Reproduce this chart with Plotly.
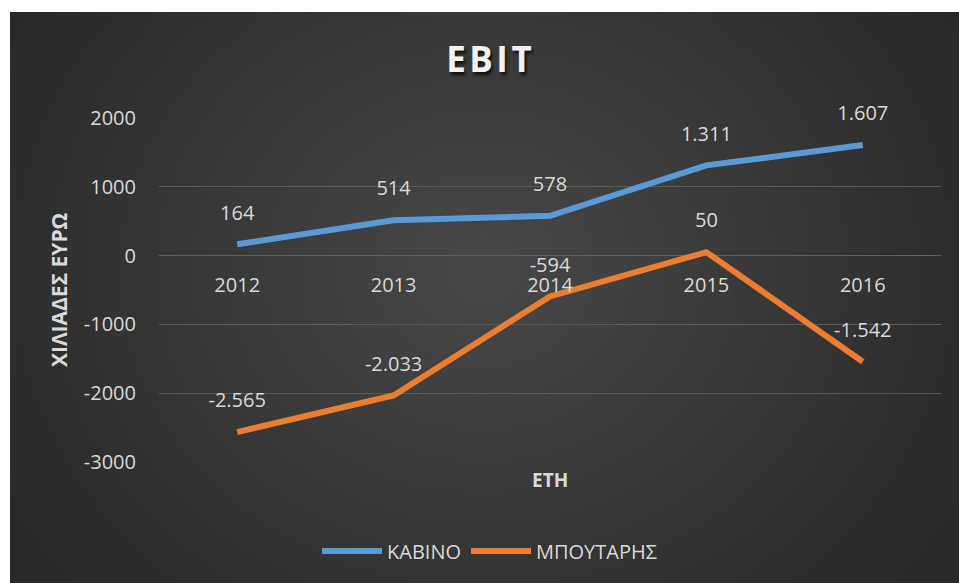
import plotly.graph_objects as go

years = ["2012", "2013", "2014", "2015", "2016"]
kavino = [164, 514, 578, 1311, 1607]
boutaris = [-2565, -2033, -594, 50, -1542]
y_tickvals = [-3000, -2000, -1000, 0, 1000, 2000]
y_ticktext = ["-3000", "-2000", "-1000", "0", "1000", "2000"]
series_names = ["ΚΑΒΙΝΟ", "ΜΠΟΥΤΑΡΗΣ"]
series_colors = ["#5B9BD5", "#ED7D31"]

FONT = "Open Sans"
TXT = "#d9d9d9"
BG = "#292929"

def fmt(v):
    return f"{v:,}".replace(",", ".")

W, H = 959, 583
ML, MR, MT, MB = 159, 18, 118, 121
PW, PH = W - ML - MR, H - MT - MB

def px(x):  # page pixel x -> paper fraction
    return (x - ML) / PW

def py(y):  # page pixel y -> paper fraction
    return (H - MB - y) / PH

fig = go.Figure()
for name, vals, col in zip(series_names, [kavino, boutaris], series_colors):
    fig.add_trace(go.Scatter(
        x=years, y=vals, name=name,
        mode="lines+markers+text",
        line=dict(color=col, width=6),
        marker=dict(size=30, color="rgba(0,0,0,0)"),
        text=[fmt(v) for v in vals],
        textposition="top center",
        textfont=dict(family=FONT, size=20, color=TXT),
        cliponaxis=False,
    ))

shapes = [
    dict(type="rect", xref="paper", yref="paper", layer="below",
         x0=px(-20), x1=px(980), y0=py(-20), y1=py(12),
         fillcolor="white", line=dict(width=0)),
    dict(type="rect", xref="paper", yref="paper", layer="below",
         x0=px(-20), x1=px(10), y0=py(-20), y1=py(600),
         fillcolor="white", line=dict(width=0)),
]
cx, cy = 484, 270
N = 30
for i in range(N):
    f = 1 - i / N
    rx, ry = 540 * f, 470 * f
    shapes.append(dict(type="circle", xref="paper", yref="paper", layer="below",
                       x0=px(cx - rx), x1=px(cx + rx), y0=py(cy + ry), y1=py(cy - ry),
                       fillcolor="rgba(255,255,255,0.0065)", line=dict(width=0)))

fig.update_layout(
    width=W, height=H,
    margin=dict(l=ML, r=MR, t=MT, b=MB, autoexpand=False),
    paper_bgcolor=BG,
    plot_bgcolor="rgba(0,0,0,0)",
    hovermode=False,
    shapes=shapes,
    title=dict(text="<b>E\u200aB\u200aI\u200aT</b>", x=489 / W, xanchor="center",
               y=1 - 60 / H, yanchor="middle",
               font=dict(family=FONT, size=35, color="#f2f2f2",
                         shadow="2px 3px 3px rgba(0,0,0,0.7)")),
    xaxis=dict(type="category", range=[-0.5, 4.5], anchor="free", position=0.6,
               showgrid=False, showline=False, zeroline=False, ticks="",
               ticklabelstandoff=15,
               tickfont=dict(family=FONT, size=20, color=TXT)),
    yaxis=dict(range=[-3000, 2000], tickvals=y_tickvals, ticktext=y_ticktext,
               showgrid=True, gridcolor="#5a5a5a", gridwidth=1,
               zeroline=True, zerolinecolor="#606060", zerolinewidth=1,
               showline=False, ticks="", ticklabelstandoff=22,
               tickfont=dict(family=FONT, size=20, color=TXT)),
    legend=dict(orientation="h", x=px(490), xanchor="center", y=py(551), yanchor="middle",
                font=dict(family=FONT, size=20, color=TXT), bgcolor="rgba(0,0,0,0)",
                itemwidth=60),
    annotations=[
        dict(text="<b>ΧΙΛΙΑΔΕΣ ΕΥΡΩ</b>", textangle=-90, xref="paper", yref="paper",
             x=px(59), y=py(290), xanchor="center", yanchor="middle", showarrow=False,
             font=dict(family=FONT, size=21, color=TXT)),
        dict(text="<b>ΕΤΗ</b>", xref="paper", yref="paper",
             x=px(550), y=py(480), xanchor="center", yanchor="middle", showarrow=False,
             font=dict(family=FONT, size=19, color=TXT)),
    ],
    showlegend=True,
)

fig.write_html(
    "out.html",
    config={"displayModeBar": False},
    post_script="document.body.style.margin='0';"
                "document.documentElement.style.overflow='hidden';"
                "document.body.style.overflow='hidden';"
                "document.body.style.background='" + BG + "';"
                "document.documentElement.style.background='" + BG + "';",
)
